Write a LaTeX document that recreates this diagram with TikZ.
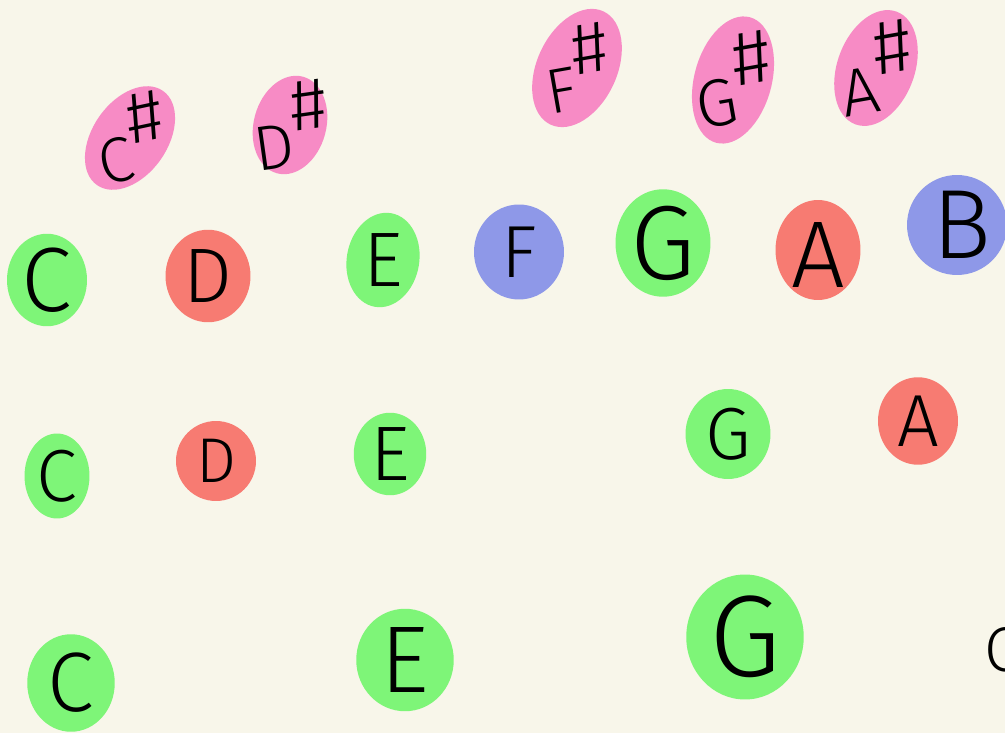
\documentclass[tikz,border=0pt]{standalone}
\usepackage{fontspec}
\setmainfont{Fira Sans Light}
\usetikzlibrary{shapes.geometric}

\definecolor{paper}{HTML}{F8F6EA}
\definecolor{sharpnote}{HTML}{F78BC5}
\definecolor{greennote}{HTML}{7EF578}
\definecolor{rednote}{HTML}{F77B72}
\definecolor{bluenote}{HTML}{8E98E8}

\tikzset{
	blob/.style={ellipse, fill=#1, inner sep=0pt},
	note/.style={font=\fontsize{#1}{#1}\selectfont, inner sep=0pt, text=black},
}
\newcommand{\sharpof}[1]{#1\kern.02em\raisebox{.55em}{\scalebox{1.15}{\#}}}

\begin{document}
\begin{tikzpicture}[x=0.02cm, y=-0.02cm]
			\fill[paper] (0,0) rectangle (1005,733);
			\useasboundingbox (0,0) rectangle (1005,733);
			\clip (0,0) rectangle (1005,733);
			
			% sharps
			\node[blob=sharpnote, minimum width=1.5cm, minimum height=2.3cm, rotate=-35] (cs) at (130,138){};
			\node[note=36pt, rotate=12] (cst) at (cs) {\sharpof{C}};
			\node[blob=sharpnote, minimum width=1.45cm, minimum height=2cm, rotate=-15] (ds) at (290,125){};
			\node[note=36pt, rotate=8] (dst) at (ds) {\sharpof{D}};
			\node[blob=sharpnote, minimum width=1.6cm, minimum height=2.5cm, rotate=-25] (fs) at (577,68){};
			\node[note=36pt, rotate=10] (fst) at (fs) {\sharpof{F}};
			\node[blob=sharpnote, minimum width=1.55cm, minimum height=2.6cm, rotate=-15] (gs) at (733,80){};
			\node[note=38pt, rotate=10] (gst) at (gs) {\sharpof{G}};
			\node[blob=sharpnote, minimum width=1.55cm, minimum height=2.4cm, rotate=-20] (as) at (876,68){};
			\node[note=38pt, rotate=10] (ast) at (as) {\sharpof{A}};
			
			% first row of naturals
			\node[blob=greennote, minimum width=1.6cm, minimum height=1.85cm] (c1) at (47,280){};
			\node[note=52pt] (c1t) at (c1) {C};
			\node[blob=rednote, minimum width=1.7cm, minimum height=1.85cm] (d1) at (208,276){};
			\node[note=44pt] (d1t) at (d1) {D};
			\node[blob=greennote, minimum width=1.45cm, minimum height=1.9cm, rotate=-10] (e1) at (383,260){};
			\node[note=44pt] (e1t) at (e1) {E};
			\node[blob=bluenote, minimum width=1.8cm, minimum height=1.9cm] (f1) at (519,252){};
			\node[note=42pt] (f1t) at (f1) {F};
			\node[blob=greennote, minimum width=1.9cm, minimum height=2.15cm] (g1) at (663,243){};
			\node[note=60pt] (g1t) at (g1) {G};
			\node[blob=rednote, minimum width=1.7cm, minimum height=2cm] (a1) at (818,250){};
			\node[note=54pt] (a1t) at ([yshift=-1mm]a1) {A};
			\node[blob=bluenote, minimum width=2cm, minimum height=2cm] (b1) at (957,225){};
			\node[note=56pt] (b1t) at ([xshift=1mm]b1) {B};
			
			% second row
			\node[blob=greennote, minimum width=1.3cm, minimum height=1.7cm] (c2) at (57,476){};
			\node[note=42pt] (c2t) at (c2) {C};
			\node[blob=rednote, minimum width=1.6cm, minimum height=1.6cm] (d2) at (216,461){};
			\node[note=36pt] (d2t) at (d2) {D};
			\node[blob=greennote, minimum width=1.45cm, minimum height=1.65cm] (e2) at (390,454){};
			\node[note=44pt] (e2t) at (e2) {E};
			\node[blob=greennote, minimum width=1.7cm, minimum height=1.8cm] (g2) at (728,434){};
			\node[note=42pt] (g2t) at (g2) {G};
			\node[blob=rednote, minimum width=1.6cm, minimum height=1.75cm] (a2) at (918,421){};
			\node[note=42pt] (a2t) at (a2) {A};
			
			% third row
			\node[blob=greennote, minimum width=1.75cm, minimum height=1.95cm] (c3) at (71,683){};
			\node[note=48pt] (c3t) at (c3) {C};
			\node[blob=greennote, minimum width=1.95cm, minimum height=2.05cm] (e3) at (405,660){};
			\node[note=54pt] (e3t) at (e3) {E};
			\node[blob=greennote, minimum width=2.35cm, minimum height=2.5cm] (g3) at (745,637){};
			\node[note=66pt] (g3t) at (g3) {G};
			\node[note=36pt, anchor=west] (c4t) at (984,650) {C};
		\end{tikzpicture}
\end{document}
